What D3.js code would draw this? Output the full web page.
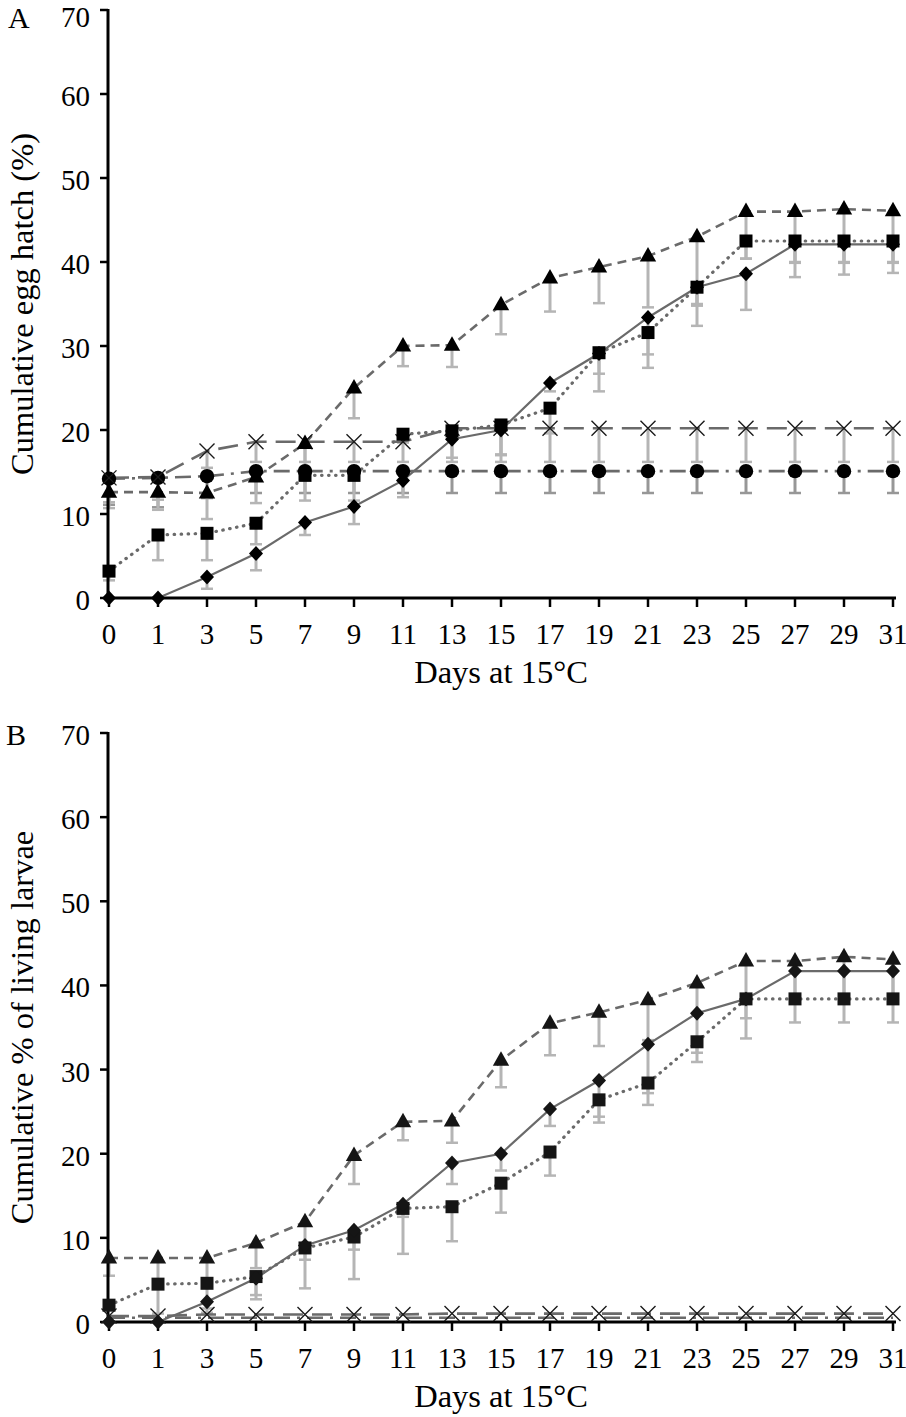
<!DOCTYPE html>
<html><head><meta charset="utf-8">
<script src="https://cdn.jsdelivr.net/npm/d3@7"></script>
<style>
body{margin:0;background:#fff}
svg{display:block}
text{font-family:"Liberation Serif","Times New Roman",serif;fill:#000}
</style>
</head><body>
<svg id="c" width="906" height="1417"></svg>
<script>
// ---------- data ----------
const days = ["0","1","3","5","7","9","11","13","15","17","19","21","23","25","27","29","31"];
const yTickValues = [0,10,20,30,40,50,60,70];

// Panel A: cumulative egg hatch (%)
const aDiamond    = [0,0,2.5,5.3,9.0,10.9,14.0,18.9,20.0,25.6,29.1,33.4,37.0,38.6,42.1,42.1,42.1];
const aDiamondErr = [0,0,1.4,2.0,1.5,2.1,2.0,2.2,3.0,1.0,2.4,6.0,4.6,4.3,3.9,3.6,3.4];
const aSquare     = [3.2,7.5,7.7,8.9,14.6,14.6,19.5,19.9,20.6,22.6,29.2,31.6,37.0,42.5,42.5,42.5,42.5];
const aSquareErr  = [1.1,3.0,3.2,2.5,3.0,3.0,1.0,1.0,3.5,3.0,4.6,2.6,2.0,2.1,2.6,2.6,2.6];
const aTriangle   = [12.6,12.6,12.5,14.4,18.4,25.0,30.0,30.1,34.9,38.1,39.4,40.7,43.0,46.0,46.0,46.3,46.1];
const aTriangleErr= [1.9,2.1,3.1,3.1,3.0,3.6,2.4,2.6,3.5,4.0,4.3,6.1,8.2,5.6,6.0,6.3,6.1];
const aCross      = [14.3,14.4,17.5,18.6,18.6,18.6,18.6,20.2,20.2,20.2,20.2,20.2,20.2,20.2,20.2,20.2,20.2];
const aCrossErr   = [2.9,2.7,2.0,2.4,2.4,2.4,2.4,4.0,4.0,4.0,4.0,4.0,4.0,4.0,4.0,4.0,4.0];
const aCircle     = [14.2,14.3,14.5,15.1,15.1,15.1,15.1,15.1,15.1,15.1,15.1,15.1,15.1,15.1,15.1,15.1,15.1];
const aCircleErr  = [3.1,3.5,2.6,2.6,2.6,2.6,2.6,2.6,2.6,2.6,2.6,2.6,2.6,2.6,2.6,2.6,2.6];

// Panel B: cumulative % of living larvae
const bDiamond    = [0,0,2.4,5.2,9.1,10.9,14.0,18.9,20.0,25.3,28.7,33.0,36.7,38.4,41.7,41.7,41.7];
const bDiamondErr = [0,0,0.8,2.0,1.7,2.3,1.5,2.5,2.0,2.0,4.3,5.8,4.7,2.3,3.3,3.3,3.3];
const bSquare     = [2.0,4.5,4.6,5.4,8.8,10.1,13.5,13.7,16.5,20.2,26.4,28.4,33.3,38.4,38.4,38.4,38.4];
const bSquareErr  = [0.5,3.5,3.5,2.7,4.8,5.0,5.4,4.1,3.5,2.8,2.7,2.6,2.4,4.7,2.8,2.8,2.8];
const bTriangle   = [7.6,7.6,7.6,9.4,11.9,19.8,23.8,23.9,31.1,35.5,36.8,38.3,40.3,42.9,42.9,43.4,43.1];
const bTriangleErr= [2.1,3.0,3.0,3.0,3.0,3.4,2.2,2.6,3.2,3.8,4.0,4.8,3.7,4.5,4.5,4.5,4.5];
const bCross      = [0.7,0.7,0.9,0.9,0.9,0.9,0.9,1.0,1.0,1.0,1.0,1.0,1.0,1.0,1.0,1.0,1.0];
const bCircle     = [0.5,0.5,0.5,0.5,0.5,0.5,0.5,0.5,0.5,0.5,0.5,0.5,0.5,0.5,0.5,0.5,0.5];

// ---------- styles ----------
const LINE = "#6a6a6a";
const ERR = "#b5b5b5";
const styles = {
  diamond:  {dash:null, width:2.2, cap:"butt"},
  square:   {dash:"0.5,6.5", width:3.2, cap:"round"},
  triangle: {dash:"9,6", width:2.6, cap:"butt"},
  cross:    {dash:"20,9", width:2.6, cap:"butt"},
  circle:   {dash:"16,7,3,7", width:2.6, cap:"butt"}
};
const shapes = {
  diamond:  "M0,-7.5L7,0L0,7.5L-7,0Z",
  square:   "M-6.5,-6.5H6.5V6.5H-6.5Z",
  triangle: "M0,-9L8.2,5.5L-8.2,5.5Z",
  circle:   "M7.2,0A7.2,7.2 0 1,1 -7.2,0A7.2,7.2 0 1,1 7.2,0Z"
};

const svg = d3.select("#c");
const x = d3.scalePoint().domain(days).range([109, 893]);

function drawPanel(cfg){
  const y = d3.scaleLinear().domain([0,70]).range([cfg.bottom, cfg.top]);
  const g = svg.append("g");

  // error bars (lower only)
  cfg.series.forEach(s => {
    if(!s.err) return;
    const eg = g.append("g");
    days.forEach((d,i) => {
      const e = s.err[i];
      if(!e) return;
      const cx = x(d), y0 = y(s.values[i]), y1 = y(s.values[i]-e);
      eg.append("line").attr("x1",cx).attr("x2",cx).attr("y1",y0).attr("y2",y1)
        .attr("stroke", s.errColor || ERR).attr("stroke-width",3);
      eg.append("line").attr("x1",cx-6).attr("x2",cx+6).attr("y1",y1).attr("y2",y1)
        .attr("stroke", s.errColor || ERR).attr("stroke-width",2.5);
    });
  });

  // lines
  const lineGen = d3.line().x((v,i)=>x(days[i])).y(v=>y(v));
  cfg.series.forEach(s => {
    const st = styles[s.kind];
    g.append("path").datum(s.values).attr("d", lineGen)
      .attr("fill","none").attr("stroke", LINE).attr("stroke-width", st.width)
      .attr("stroke-dasharray", st.dash).attr("stroke-linecap", st.cap);
  });

  // axes
  const ax = g.append("g");
  ax.append("line").attr("x1",108).attr("x2",108).attr("y1",cfg.top-1).attr("y2",cfg.bottom+1.5)
    .attr("stroke","#000").attr("stroke-width",3);
  ax.append("line").attr("x1",106.5).attr("x2",896).attr("y1",cfg.bottom).attr("y2",cfg.bottom)
    .attr("stroke","#000").attr("stroke-width",3);
  yTickValues.forEach(t => {
    ax.append("line").attr("x1",100).attr("x2",108).attr("y1",y(t)).attr("y2",y(t))
      .attr("stroke","#000").attr("stroke-width",2.5);
    ax.append("text").attr("x",90).attr("y",Math.max(y(t)+12, 26.5))
      .attr("text-anchor","end").attr("font-size",29).text(t);
  });
  days.forEach(d => {
    ax.append("line").attr("x1",x(d)).attr("x2",x(d)).attr("y1",cfg.bottom).attr("y2",cfg.bottom+9)
      .attr("stroke","#000").attr("stroke-width",2.5);
    ax.append("text").attr("x",x(d)).attr("y",cfg.bottom+46)
      .attr("text-anchor","middle").attr("font-size",29).text(d);
  });

  // markers
  cfg.series.forEach(s => {
    const mg = g.append("g");
    days.forEach((d,i) => {
      const cx = x(d), cy = y(s.values[i]);
      if(s.kind === "cross"){
        mg.append("path").attr("d","M-7.5,-7.5L7.5,7.5M7.5,-7.5L-7.5,7.5")
          .attr("transform",`translate(${cx},${cy})`)
          .attr("stroke","#1a1a1a").attr("stroke-width",1.4).attr("fill","none");
      } else if(s.marker !== false){
        mg.append("path").attr("d", shapes[s.kind])
          .attr("transform",`translate(${cx},${cy})`).attr("fill", cfg.markerFill);
      }
    });
  });

  // texts
  svg.append("text").attr("x", cfg.letterX).attr("y", Math.max(cfg.top+12, 27.5)).attr("font-size",30).text(cfg.letter);
  svg.append("text").attr("transform",`translate(33,${(cfg.top+cfg.bottom)/2}) rotate(-90)`)
    .attr("text-anchor","middle").attr("font-size",32.5).text(cfg.ytitle);
  svg.append("text").attr("x",501).attr("y",cfg.bottom+85)
    .attr("text-anchor","middle").attr("font-size",32.5).text("Days at 15\u00B0C");
}

drawPanel({
  top:10, bottom:598, letter:"A", letterX:8, markerFill:"#000",
  ytitle:"Cumulative egg hatch (%)",
  series:[
    {kind:"circle", values:aCircle, err:aCircleErr, errColor:"#979797"},
    {kind:"cross", values:aCross, err:aCrossErr},
    {kind:"triangle", values:aTriangle, err:aTriangleErr},
    {kind:"square", values:aSquare, err:aSquareErr},
    {kind:"diamond", values:aDiamond, err:aDiamondErr}
  ]
});
drawPanel({
  top:733, bottom:1322, letter:"B", letterX:6, markerFill:"#151515",
  ytitle:"Cumulative % of living larvae",
  series:[
    {kind:"circle", values:bCircle, marker:false},
    {kind:"cross", values:bCross},
    {kind:"triangle", values:bTriangle, err:bTriangleErr},
    {kind:"square", values:bSquare, err:bSquareErr},
    {kind:"diamond", values:bDiamond, err:bDiamondErr}
  ]
});
</script>
</body></html>
